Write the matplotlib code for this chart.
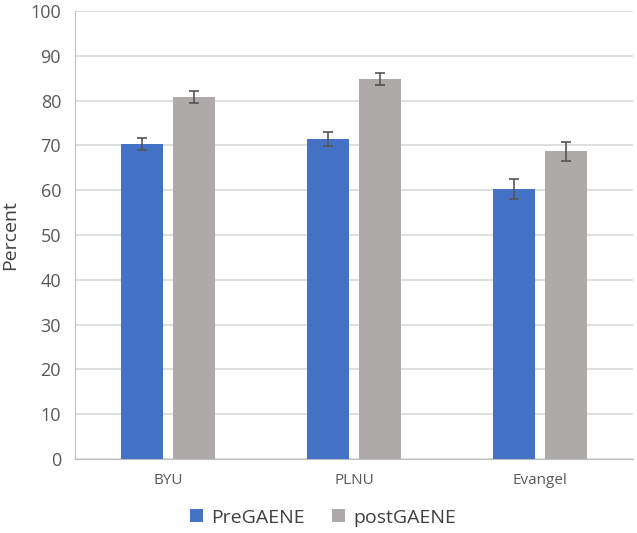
import matplotlib
matplotlib.use("Agg")
import matplotlib.pyplot as plt
import numpy as np

categories = ["BYU", "PLNU", "Evangel"]
pre_vals = [70.3, 71.5, 60.3]
pre_err = [1.4, 1.6, 2.3]
post_vals = [80.8, 84.8, 68.7]
post_err = [1.3, 1.3, 2.1]
series_names = ["PreGAENE", "postGAENE"]
yticks = list(range(0, 101, 10))

plt.rcParams['font.family'] = ['Open Sans', 'DejaVu Sans']
fig = plt.figure(figsize=(6.37, 5.33), dpi=100)
ax = fig.add_axes([0.1177, 0.1388, 0.876, 0.8406])

x = np.arange(len(categories))
w = 0.226
off = 0.142
ekw = dict(ecolor="#555555", elinewidth=1.2, capsize=3.5, capthick=1.2)
ax.bar(x - off, pre_vals, w, color="#4472C4", yerr=pre_err, error_kw=ekw, label=series_names[0], zorder=3)
ax.bar(x + off, post_vals, w, color="#AEAAAA", yerr=post_err, error_kw=ekw, label=series_names[1], zorder=3)

ax.set_xlim(-0.5, 2.5)
ax.set_ylim(0, 100)
ax.set_yticks(yticks)
ax.set_xticks(x)
ax.set_xticklabels(categories)
ax.grid(axis='y', color="#D9D9D9", linewidth=1.2, zorder=0)
for s in ["top", "right"]:
    ax.spines[s].set_visible(False)
ax.spines["left"].set_color("#BFBFBF")
ax.spines["bottom"].set_color("#BFBFBF")
ax.tick_params(axis='both', length=0, colors="#595959")
ax.tick_params(axis='y', pad=10, labelsize=13)
ax.tick_params(axis='x', pad=10, labelsize=11)
ax.set_ylabel("Percent", fontsize=14, color="#404040", labelpad=8)

ax.legend(loc="lower center", bbox_to_anchor=(0.445, -0.19), ncol=2, frameon=False,
          fontsize=14, handlelength=0.65, handleheight=0.65, columnspacing=1.4,
          handletextpad=0.45, labelcolor="#404040")

fig.savefig("out.png", dpi=100)
